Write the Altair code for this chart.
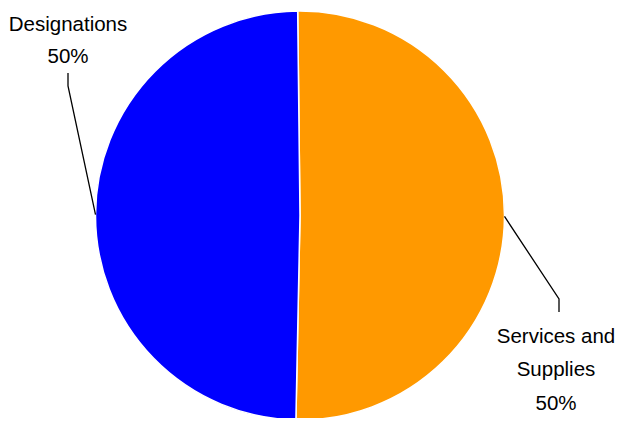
import math
import altair as alt
import pandas as pd
import numpy as np

# ---- data ----
categories = ["Services and Supplies", "Designations"]
values = [50.5, 49.5]
label_lines = [["Services and", "Supplies"], ["Designations"]]
colors = ["#FF9900", "#0000FF"]

# ---- layout / style constants ----
W, H = 607, 410           # whole drawing area (page is 623x426 with 8px margins)
CX, CY = 292, 207.5       # pie centre (px)
R = 204.5                 # pie radius (px)
START = math.radians(-0.65)  # rotation of first slice from 12 o'clock
FONT = "Liberation Sans"
FONT_SIZE = 20.5
# elbow point and stub end of each leader line, plus text anchor (plot px)
LEADER = {
    "Services and Supplies": dict(elbow=(551, 291), stub=(551, 304), text=(548, 335), lh=33.3),
    "Designations": dict(elbow=(60, 78), stub=(60, 65), text=(60, 22.5), lh=32),
}

total = sum(values)
fracs = np.array(values) / total
ends = np.cumsum(fracs)
starts = ends - fracs
mids = START + (starts + ends) / 2 * 2 * math.pi

pie_df = pd.DataFrame({"category": categories, "value": values, "order": range(len(categories))})

lead_rows, text_rows = [], []
for i, cat in enumerate(categories):
    ax = CX + R * math.sin(mids[i])
    ay = CY - R * math.cos(mids[i])
    L = LEADER[cat]
    pts = [(ax, ay), L["elbow"], L["stub"]]
    for k, (px, py) in enumerate(pts):
        lead_rows.append({"category": cat, "k": k, "px": px, "py": py})
    pct = f"{fracs[i] * 100:.0f}%"
    text_rows.append({"category": cat, "label": "\n".join(label_lines[i] + [pct]),
                      "tx": L["text"][0], "ty": L["text"][1]})
lead_df = pd.DataFrame(lead_rows)
text_df = pd.DataFrame(text_rows)

pie = alt.Chart(pie_df).mark_arc(radius=R, stroke="white", strokeWidth=1.5).encode(
    theta=alt.Theta("value:Q", stack=True,
                    scale=alt.Scale(range=[START, START + 2 * math.pi])),
    color=alt.Color("category:N", scale=alt.Scale(domain=categories, range=colors), legend=None),
    order=alt.Order("order:Q"),
    x=alt.value(CX),
    y=alt.value(CY),
)

leaders = alt.Chart(lead_df).mark_line(color="black", strokeWidth=1.3).encode(
    x=alt.X("px:Q", scale=None, axis=None),
    y=alt.Y("py:Q", scale=None, axis=None),
    detail="category:N",
    order="k:Q",
)

texts = []
for cat in categories:
    texts.append(
        alt.Chart(text_df).transform_filter(alt.datum.category == cat).mark_text(
            font=FONT, fontSize=FONT_SIZE, align="center", baseline="alphabetic",
            lineBreak="\n", lineHeight=LEADER[cat]["lh"], color="black",
        ).encode(
            x=alt.X("tx:Q", scale=None, axis=None),
            y=alt.Y("ty:Q", scale=None, axis=None),
            text="label:N",
        )
    )

chart = alt.layer(pie, leaders, *texts).properties(
    width=W, height=H,
    autosize=alt.AutoSizeParams(type="none"),
    padding=0,
).resolve_scale(x="independent", y="independent").configure_view(stroke=None)

chart.save("out.html", embed_options={"renderer": "svg", "actions": False})
